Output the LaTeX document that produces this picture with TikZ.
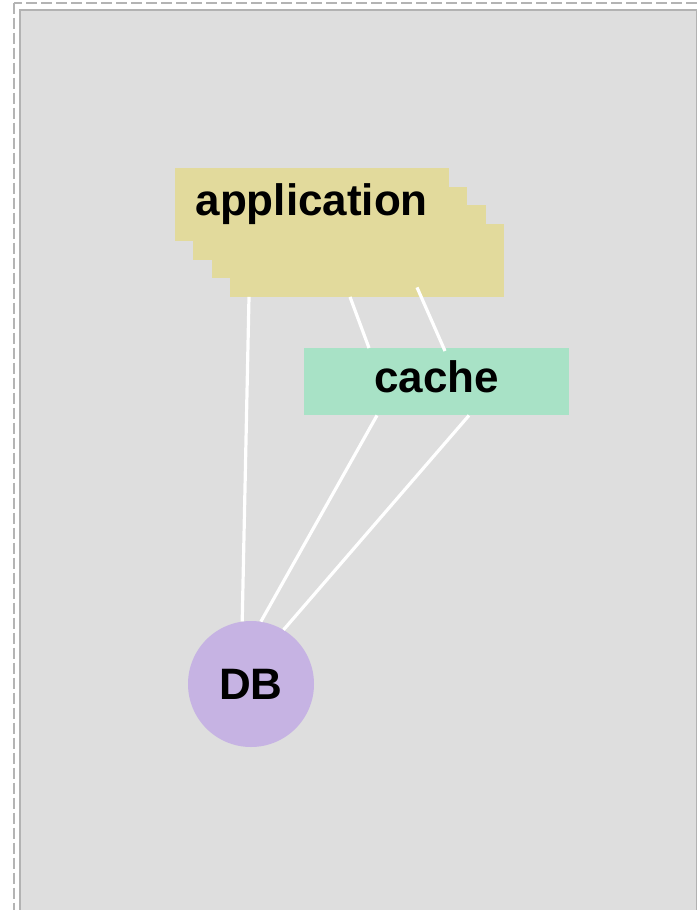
\documentclass[tikz,border=0pt]{standalone}
\usepackage{fontspec}
\setmainfont{Liberation Sans}
\usetikzlibrary{calc}

\definecolor{panelbg}{HTML}{DEDEDE}
\definecolor{panelline}{HTML}{B2B2B2}
\definecolor{frameline}{HTML}{B4B4B4}
\definecolor{appfill}{HTML}{E2DA9C}
\definecolor{cachefill}{HTML}{A8E2C6}
\definecolor{dbfill}{HTML}{C6B3E3}

\tikzset{
  lbl/.style={font=\bfseries\fontsize{44}{50}\selectfont, text=black},
  boxlbl/.style={lbl, text height=31.5pt, text depth=9.2pt},
  appbox/.style={rectangle, fill=appfill, draw=none, inner sep=0pt,
    minimum width=274pt, minimum height=73pt, anchor=north west},
  cachebox/.style={rectangle, fill=cachefill, draw=none, inner sep=0pt,
    minimum width=265pt, minimum height=67pt, anchor=north west, boxlbl},
  dbnode/.style={circle, fill=dbfill, draw=none, inner sep=0pt,
    minimum size=126pt, lbl},
  link/.style={draw=white, line width=3.2pt},
}

\begin{document}
\begin{tikzpicture}[x=1pt, y=-1pt]
  \useasboundingbox (0,0) rectangle (700,910);
  \clip (0,0) rectangle (700,910);

  % frame and panel
  \draw[frameline, line width=2pt, dash pattern=on 11pt off 4pt]
    (13.5,2.5) rectangle (730,940);
  \draw[panelline, fill=panelbg, line width=1.6pt]
    (19.8,9.8) rectangle (696.5,940);

  % stacked application instances (back to front)
  \node[appbox] (app4) at (230,223.5) {};
  \node[appbox] (app3) at (211.5,205) {};
  \node[appbox] (app2) at (193,186.5) {};
  \node[appbox, boxlbl] (app1) at (174.5,168) {application};

  \node[cachebox] (cache) at (304,348) {cache};
  \node[dbnode] (db) at (251,684) {DB};

  % connections
  \draw[link] ([xshift=19pt]app4.south west) -- (db.98);
  \draw[link] ([xshift=120pt]app4.south west) -- ([xshift=65pt]cache.north west);
  \draw[link] ([xshift=187pt, yshift=9.5pt]app4.south west)
    -- ([xshift=141pt, yshift=-3pt]cache.north west);
  \draw[link] ([xshift=73pt]cache.south west) -- (db.81);
  \draw[link] ([xshift=165pt]cache.south west) -- (db.59);
\end{tikzpicture}
\end{document}
